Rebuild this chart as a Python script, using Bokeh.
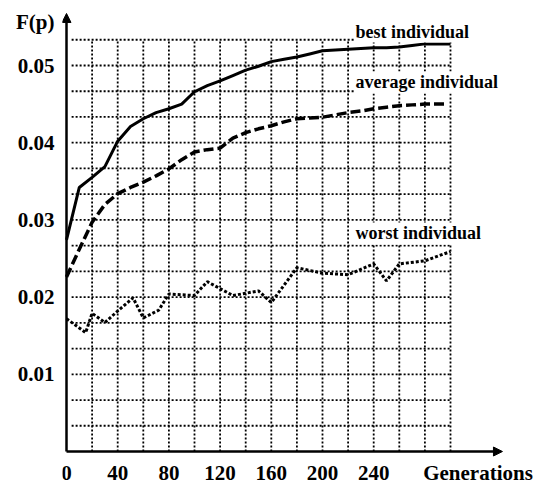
from bokeh.plotting import figure
from bokeh.models import FixedTicker, Arrow, NormalHead, Range1d, PrintfTickFormatter
from bokeh.embed import file_html
from bokeh.resources import INLINE
from bokeh.core.properties import value

# ---------------- data ----------------
gen_best = [0, 10, 20, 30, 40, 50, 60, 70, 80, 90, 100, 110, 120, 130, 140, 150,
            160, 170, 180, 190, 200, 210, 220, 230, 240, 250, 260, 270, 280, 290, 300]
best = [0.0274, 0.0342, 0.0355, 0.0369, 0.0402, 0.0421, 0.0431, 0.0439, 0.0444, 0.0450,
        0.0466, 0.0474, 0.0480, 0.0487, 0.0494, 0.0499, 0.0505, 0.0508, 0.0511, 0.0515,
        0.0519, 0.0520, 0.0521, 0.0522, 0.0523, 0.0523, 0.0524, 0.0526, 0.0528, 0.0528, 0.0528]

gen_avg = [0, 10, 20, 30, 40, 50, 60, 70, 80, 90, 100, 110, 120, 130, 140, 150,
           160, 170, 180, 190, 200, 210, 220, 230, 240, 250, 260, 270, 280, 290, 297]
avg = [0.0226, 0.0262, 0.0297, 0.0320, 0.0334, 0.0342, 0.0349, 0.0357, 0.0366, 0.0378,
       0.0388, 0.0391, 0.0393, 0.0406, 0.0413, 0.0418, 0.0422, 0.0427, 0.0431, 0.0432,
       0.0433, 0.0436, 0.0439, 0.0441, 0.0444, 0.0446, 0.0448, 0.0449, 0.0450, 0.0450, 0.0450]

gen_worst = [0, 15, 20, 30, 40, 52, 60, 72, 80, 100, 110, 130, 140, 150, 160,
             180, 200, 220, 240, 250, 260, 280, 300]
worst = [0.0172, 0.0154, 0.0179, 0.0167, 0.0182, 0.0199, 0.0173, 0.0183, 0.0204, 0.0202,
         0.0220, 0.0202, 0.0205, 0.0208, 0.0193, 0.0238, 0.0231, 0.0229, 0.0243, 0.0221,
         0.0243, 0.0247, 0.0259]

x_ticks = [0, 40, 80, 120, 160, 200, 240]
y_ticks = [0.01, 0.02, 0.03, 0.04, 0.05]
x_title = "Generations"
y_title = "F(p)"
series_labels = ["best individual", "average individual", "worst individual"]

grid_x = [20 * k for k in range(1, 16)]           # 20 .. 300
grid_y = [0.01 / 3 * k for k in range(1, 17)]     # 1/3 .. 16/3 of 0.01
x_max = 300
y_max = 0.01 / 3 * 16

# ---------------- layout ----------------
# (Bokeh's page template has no body margin, so the canvas starts at 0,0)
W, H = 534, 485
BL, BT = 62, 8
px_x = 1.28          # pixels per generation
px_y = 7720.0        # pixels per unit of F(p)
x0 = -4 / px_x
x1 = x0 + (W - BL) / px_x
y0 = -(H - 451) / px_y
y1 = y0 + (H - BT) / px_y

FONT = "Liberation Serif"

p = figure(width=W, height=H, x_range=Range1d(x0, x1), y_range=Range1d(y0, y1),
           toolbar_location=None, output_backend="svg",
           min_border_left=BL, min_border_right=0, min_border_top=BT, min_border_bottom=0)
p.outline_line_color = None
p.xgrid.visible = False
p.ygrid.visible = False

# axes (labels only; axis lines are drawn as arrows)
x_label_pos = 321.5
p.xaxis.ticker = FixedTicker(ticks=x_ticks + [x_label_pos])
p.xaxis.major_label_overrides = {x_label_pos: x_title}
p.xaxis.fixed_location = 0
p.yaxis.ticker = FixedTicker(ticks=y_ticks + [0.0556])
p.yaxis.formatter = PrintfTickFormatter(format="%.2f")
p.yaxis.major_label_overrides = {0.0556: y_title}
for ax in (p.xaxis, p.yaxis):
    ax.axis_line_color = None
    ax.major_tick_line_color = None
    ax.minor_tick_line_color = None
    ax.major_tick_out = 0
    ax.major_tick_in = 0
    ax.minor_tick_out = 0
    ax.major_label_text_font = FONT
    ax.major_label_text_font_size = "21px"
    ax.major_label_text_font_style = "bold"
    ax.major_label_text_color = "black"
p.xaxis.major_label_standoff = 9
p.yaxis.major_label_standoff = 8

# dotted grid, limited to the data box
grid_gap = 4  # horizontal grid lines start slightly right of the axis
p.segment(x0=grid_x, y0=[0] * len(grid_x), x1=grid_x, y1=[y_max] * len(grid_x),
          line_color="black", line_width=1.8, line_dash="2 2")
p.segment(x0=[grid_gap] * len(grid_y), y0=grid_y, x1=[x_max] * len(grid_y), y1=grid_y,
          line_color="black", line_width=1.8, line_dash="2 2")

# axes with arrow heads
p.add_layout(Arrow(end=NormalHead(size=9, fill_color="black", line_color="black"),
                   x_start=0, y_start=0, x_end=0, y_end=0.05674,
                   line_width=2.5, line_color="black"))
p.add_layout(Arrow(end=NormalHead(size=9, fill_color="black", line_color="black"),
                   x_start=0, y_start=0, x_end=340.6, y_end=0,
                   line_width=2.5, line_color="black"))

# series
p.line(gen_best, best, line_color="black", line_width=3)
p.line(gen_avg, avg, line_color="black", line_width=3.5, line_dash="10 4")
p.line(gen_worst, worst, line_color="black", line_width=3, line_dash="3 2")

# series labels (white box hides the grid behind them)
p.text(x=[225, 225, 225], y=[0.0544, 0.0478, 0.02824], text=series_labels,
       text_font=value(FONT), text_font_size="18px", text_font_style="bold",
       text_color="black", text_baseline="alphabetic", text_align="left",
       background_fill_color="white", padding=1)

open("out.html", "w").write(file_html(p, INLINE))
